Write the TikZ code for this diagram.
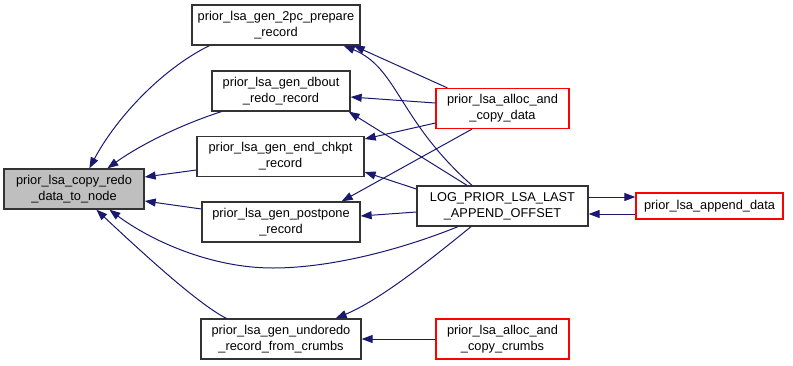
\documentclass[tikz,border=0pt]{standalone}
\usepackage{fontspec}
\setmainfont{Liberation Sans}
\usetikzlibrary{arrows.meta,calc}
\definecolor{edgeblue}{RGB}{25,25,112}
\definecolor{fngray}{RGB}{191,191,191}
\tikzset{
  fn/.style={draw=black!80, line width=1.3pt, rectangle, inner sep=0pt,
    align=center, font=\fontsize{12.8}{16}\selectfont},
  fnred/.style={fn, draw=red, line width=1.2pt},
  call/.style={draw=edgeblue, line width=1pt,
    -{Triangle[length=11pt,width=8pt]}, fill=none},
}
\begin{document}
\begin{tikzpicture}[x=1pt,y=-1pt]
\useasboundingbox (0,0) rectangle (793,365);

% functions
\node[fn, fill=fngray, minimum width=140pt, minimum height=40pt] (L) at (74,189) {prior\_lsa\_copy\_redo\\\_data\_to\_node};
\node[fn, minimum width=168pt, minimum height=40pt] (A) at (276,25) {prior\_lsa\_gen\_2pc\_prepare\\\_record};
\node[fn, minimum width=138pt, minimum height=40pt] (B) at (281,91) {prior\_lsa\_gen\_dbout\\\_redo\_record};
\node[fn, minimum width=167pt, minimum height=40pt] (C) at (280.5,156.5) {prior\_lsa\_gen\_end\_chkpt\\\_record};
\node[fn, minimum width=158pt, minimum height=40pt] (D) at (281,222) {prior\_lsa\_gen\_postpone\\\_record};
\node[fn, minimum width=160pt, minimum height=40pt] (E) at (281,339) {prior\_lsa\_gen\_undoredo\\\_record\_from\_crumbs};
\node[fnred, minimum width=133pt, minimum height=40pt] (F) at (502.5,108.5) {prior\_lsa\_alloc\_and\\\_copy\_data};
\node[fn, minimum width=171pt, minimum height=40pt] (G) at (502.5,206) {LOG\_PRIOR\_LSA\_LAST\\\_APPEND\_OFFSET};
\node[fnred, minimum width=147pt, minimum height=26pt] (H) at (709.5,206) {prior\_lsa\_append\_data};
\node[fnred, minimum width=133pt, minimum height=40pt] (I) at (502.5,339) {prior\_lsa\_alloc\_and\\\_copy\_crumbs};

% callers of prior_lsa_copy_redo_data_to_node
\draw[call] ($(A.south west)+(18,0)$) .. controls (160,70) and (115,120) .. ($(L.north west)+(86,0)$);
\draw[call] ($(B.south west)+(10,0)$) .. controls (180,125) and (140,145) .. ($(L.north west)+(104,0)$);
\draw[call] ($(C.west)+(0,13.5)$) -- ($(L.east)+(0,-12)$);
\draw[call] ($(D.west)+(0,-13)$) -- ($(L.east)+(0,12)$);
\draw[call] ($(G.south)+(-44.5,0)$) .. controls (400,250) and (330,268) .. (273,268)
  .. controls (210,268) and (150,240) .. ($(L.south west)+(106,0)$);
\draw[call] ($(E.north west)+(26,0)$) .. controls (200,305) and (150,260) .. ($(L.south west)+(93,0)$);

% callers of the record generators
\draw[call] ($(F.north west)+(12,0)$) -- ($(A.south east)+(-7,0)$);
\draw[call] ($(G.north)+(-30.5,0)$) .. controls (398,120) and (398,68) .. ($(A.south east)+(-17,0)$);
\draw[call] ($(F.west)+(0,-5.5)$) -- ($(B.east)+(0,6)$);
\draw[call] ($(G.north)+(-35.5,0)$) -- ($(B.south east)+(-2,0)$);
\draw[call] ($(F.west)+(0,14.5)$) -- ($(C.east)+(0,-17.5)$);
\draw[call] ($(G.west)+(0,-17)$) -- ($(C.east)+(0,15.5)$);
\draw[call] ($(F.south)+(-30.5,0)$) -- ($(D.north east)+(-19,0)$);
\draw[call] ($(G.west)+(0,6)$) -- ($(D.east)+(0,-6)$);
\draw[call] ($(G.south)+(-31.5,0)$) .. controls (430,260) and (380,300) .. ($(E.north east)+(-26,0)$);
\draw[call] (I.west) -- (E.east);

% LOG_PRIOR_LSA_LAST_APPEND_OFFSET <-> prior_lsa_append_data
\draw[call] ($(G.east)+(0,-9)$) -- ($(H.west)+(0,-9)$);
\draw[call] ($(H.west)+(0,8)$) -- ($(G.east)+(0,8)$);
\end{tikzpicture}
\end{document}
